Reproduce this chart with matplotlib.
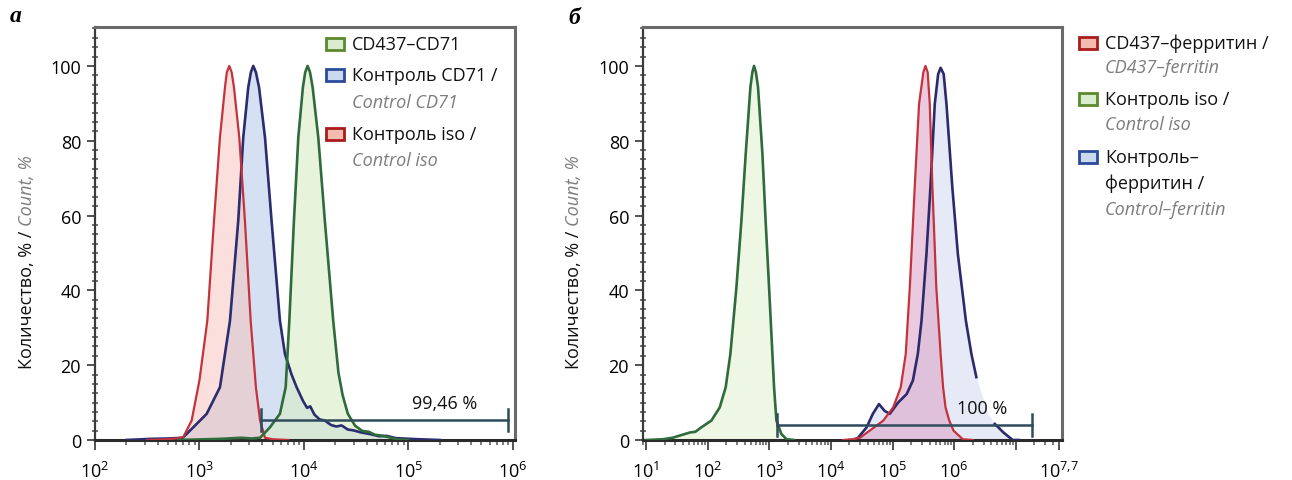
import numpy as np
import matplotlib
matplotlib.use('Agg')
import matplotlib.pyplot as plt
from matplotlib.patches import Rectangle
from matplotlib.ticker import FixedLocator, MultipleLocator, NullFormatter

plt.rcParams['font.family'] = ['Open Sans', 'DejaVu Sans']
plt.rcParams['mathtext.fontset'] = 'custom'
plt.rcParams['mathtext.rm'] = 'Open Sans'
plt.rcParams['mathtext.it'] = 'Open Sans:italic'

# ---- panel а: log10(intensity) / count, %
a_iso_lg = [2.50, 2.70, 2.80, 2.845, 2.925, 3.00, 3.075, 3.139, 3.196, 3.244, 3.262, 3.285, 3.308,
            3.33, 3.381, 3.435, 3.49, 3.54, 3.58, 3.627, 3.70, 3.85]
a_iso_cnt = [0, 0.2, 0.5, 0.8, 5.2, 16, 31.9, 58.6, 80.9, 94.3, 98.3, 100, 98.3,
             94.3, 80.9, 58.6, 31.9, 14.1, 5.2, 0.6, 0.2, 0]

a_ctrl_lg = [2.30, 2.53, 2.70, 2.84, 2.941, 3.069, 3.196, 3.292, 3.371, 3.419, 3.467, 3.492, 3.515,
             3.54, 3.57, 3.627, 3.69, 3.77, 3.818, 3.88, 3.93, 3.99, 4.03, 4.06, 4.10, 4.15, 4.20,
             4.26, 4.31, 4.36, 4.42, 4.47, 4.55, 4.63, 4.72, 4.79, 4.88, 4.95, 5.10, 5.30]
a_ctrl_cnt = [0, 0.3, 0.4, 0.6, 3.4, 7, 14.1, 31.9, 58.6, 80.9, 94.3, 98.3, 100,
              98.3, 94.3, 80.9, 58.6, 31.9, 23, 17.6, 14.1, 10.5, 8.6, 9.0, 6.8, 5.5, 5.2,
              4.0, 3.6, 3.9, 2.8, 2.6, 2.0, 1.6, 1.0, 1.1, 0.5, 0.4, 0.2, 0]

a_cd_lg = [2.80, 3.20, 3.40, 3.50, 3.58, 3.675, 3.77, 3.825, 3.86, 3.904, 3.946, 3.99, 4.012, 4.035,
           4.058, 4.083, 4.137, 4.20, 4.28, 4.33, 4.37, 4.42, 4.49, 4.56, 4.62, 4.68, 4.76, 4.89, 5.0]
a_cd_cnt = [0, 0.3, 0.6, 0.4, 0.6, 3.4, 7, 14.1, 31.9, 58.6, 80.9, 94.3, 98.3, 100,
            98.3, 94.3, 80.9, 58.6, 31.9, 18, 12, 7, 3.8, 2.4, 2.2, 1.4, 1.1, 0.2, 0]

gate_a = (3.59, 5.95, 5.35)   # log10 start, log10 end, level
gate_a_label = '99,46 %'

# ---- panel б
b_iso_lg = [1.0, 1.27, 1.43, 1.71, 1.80, 1.898, 2.06, 2.195, 2.292, 2.368, 2.466, 2.547, 2.617,
            2.693, 2.725, 2.752, 2.782, 2.817, 2.888, 2.94, 2.996, 3.05, 3.077, 3.115, 3.196, 3.28, 3.4]
b_iso_cnt = [0, 0.2, 0.6, 2.0, 2.2, 3.4, 5.2, 8.7, 14.1, 23, 40.8, 58.6, 76.5,
             94.3, 98.3, 100, 98.3, 94.3, 76.5, 58.6, 40.8, 23, 14.1, 5.2, 1.6, 0.2, 0]

b_cd_lg = [4.2, 4.36, 4.47, 4.63, 4.85, 5.01, 5.133, 5.214, 5.28, 5.36, 5.43, 5.50, 5.534, 5.57,
           5.604, 5.647, 5.71, 5.78, 5.82, 5.86, 5.92, 5.99, 6.14, 6.3]
b_cd_cnt = [0, 0.2, 0.6, 2.5, 5.2, 8.7, 14.1, 23, 40.8, 67.6, 89.8, 98.3, 100, 98.3,
            89.8, 67.6, 40.8, 23, 14.1, 8.7, 5.2, 2.5, 0.2, 0]

b_ctrl_lg = [4.30, 4.36, 4.44, 4.58, 4.68, 4.78, 4.87, 4.955, 5.09, 5.23, 5.33, 5.41, 5.47, 5.55,
             5.615, 5.685, 5.74, 5.78, 5.83, 5.875, 5.97, 6.06, 6.19, 6.28, 6.36, 6.45, 6.55, 6.66,
             6.80, 6.95, 7.05]
b_ctrl_cnt = [0, 0, 0.6, 3.4, 7.0, 9.6, 7.8, 7.0, 10.0, 12.3, 15.9, 23, 31.9, 49.7,
              67.6, 89.8, 97.8, 99.5, 97.8, 89.8, 67.6, 49.7, 31.9, 23, 16.8, 12, 7, 4.3,
              2.0, 0, 0]
b_ctrl_gap = (6.37, 6.62)   # outline missing here in the original

gate_b = (3.12, 7.26, 4.0)
gate_b_label = '100 %'

# legend: boxes (y, edge, face) and text lines (text, y, italic-english?)
legend_a_boxes = [(45, '#5b8a2c', '#d9ecd0'), (76, '#2b4a9a', '#c9d9ee'), (135, '#a81c1c', '#f4bcb0')]
legend_a_lines = [('CD437–CD71', 45, False), ('Контроль CD71 /', 76, False), ('Control CD71', 103, True),
                  ('Контроль iso /', 135, False), ('Control iso', 161, True)]
legend_b_boxes = [(44, '#a81c1c', '#f4bcb0'), (100, '#5b8a2c', '#d9ecd0'), (158, '#2b4a9a', '#c9d9ee')]
legend_b_lines = [('CD437–ферритин /', 44, False), ('CD437–ferritin', 68, True),
                  ('Контроль iso /', 100, False), ('Control iso', 125, True),
                  ('Контроль–', 158, False), ('ферритин /', 184, False), ('Control–ferritin', 210, True)]

W, H = 1292, 481
FS = 13
fig = plt.figure(figsize=(W / 100, H / 100), dpi=100)


def px(x, y):
    return x / W, 1 - y / H


def hist(ax, lg, cnt, line, fill, alpha, lw=1.9, gap=None):
    x = 10 ** np.array(lg)
    y = np.array(cnt, dtype=float)
    ax.fill_between(x, y, color=fill, alpha=alpha, lw=0, zorder=1)
    if gap is not None:
        lgs = np.array(lg)
        y = np.where((lgs > gap[0]) & (lgs < gap[1]), np.nan, y)
    ax.plot(x, y, color=line, lw=lw, zorder=3, solid_joinstyle='round')


def style_axes(ax, lo, hi):
    ax.set_xscale('log')
    ax.set_xlim(10 ** lo, 10 ** hi)
    ax.set_ylim(0, 110.4)
    ax.yaxis.set_major_locator(FixedLocator([0, 20, 40, 60, 80, 100]))
    ax.yaxis.set_minor_locator(MultipleLocator(2.5))
    ax.tick_params(axis='y', which='major', length=6, width=1.3, labelsize=FS, pad=4, color='#444')
    ax.tick_params(axis='y', which='minor', length=4, width=1.3, color='#666', direction='inout')
    ax.tick_params(axis='x', which='major', length=7, width=1.3, labelsize=FS, pad=8, color='#444')
    ax.tick_params(axis='x', which='minor', length=3.5, width=1.2, color='#666')
    for s in ('top', 'right'):
        ax.spines[s].set_color('#6a6a6a')
        ax.spines[s].set_linewidth(2.2)
    ax.spines['left'].set_color('#3a3a3a')
    ax.spines['left'].set_linewidth(1.6)
    ax.spines['bottom'].set_color('#2a2a2a')
    ax.spines['bottom'].set_linewidth(2.2)


def gate(ax, g, label, lx):
    x0, x1, yv = 10 ** g[0], 10 ** g[1], g[2]
    c = '#2f4b5c'
    ax.plot([x0, x1], [yv, yv], color=c, lw=1.8, zorder=4)
    ax.plot([x0, x0], [yv - 3, yv + 3], color=c, lw=1.8, zorder=4)
    ax.plot([x1, x1], [yv - 3, yv + 3], color=c, lw=1.8, zorder=4)
    ax.text(10 ** lx, yv + 2.2, label, ha='center', va='bottom', fontsize=FS, color='#111', zorder=5)


def legend(boxes, lines, x):
    for yy, ec, fc in boxes:
        sx, sy = px(x, yy + 6)
        fig.patches.append(Rectangle((sx, sy), 18 / W, 12 / H, transform=fig.transFigure,
                                     facecolor=fc, edgecolor=ec, lw=2))
    for txt, yy, en in lines:
        tx, ty = px(x + 26, yy)
        if en:
            fig.text(tx, ty, txt, fontsize=FS, va='center', ha='left', color='#7d7d7d', style='italic')
        else:
            fig.text(tx, ty, txt, fontsize=FS, va='center', ha='left', color='#111')


def ylabel(x, ybottom):
    tx, ty = px(x, ybottom)
    t1 = fig.text(tx, ty, 'Количество, % /', rotation=90, ha='center', va='bottom',
                  fontsize=FS, color='#111')
    fig.canvas.draw()
    bb = t1.get_window_extent()
    fig.text(tx, (bb.y1 + 5) / H, 'Count, %', rotation=90, ha='center', va='bottom',
             fontsize=FS, color='#7d7d7d', style='italic')


# ---- panel а
ax1 = fig.add_axes([95 / W, 40 / H, 420 / W, 413 / H])
hist(ax1, a_ctrl_lg, a_ctrl_cnt, '#2a2d6e', '#b9cceb', 0.6)
hist(ax1, a_iso_lg, a_iso_cnt, '#c4323c', '#f6c1bb', 0.5, lw=1.6)
hist(ax1, a_cd_lg, a_cd_cnt, '#2f6b3b', '#d9ecc6', 0.6)
style_axes(ax1, 2.0, 6.02)
ax1.xaxis.set_major_locator(FixedLocator([1e2, 1e3, 1e4, 1e5, 1e6]))
ax1.set_xticklabels([r'$10^{2}$', r'$10^{3}$', r'$10^{4}$', r'$10^{5}$', r'$10^{6}$'])
ax1.xaxis.set_minor_locator(FixedLocator([m * 10 ** d for d in range(2, 6) for m in range(2, 10)]))
ax1.xaxis.set_minor_formatter(NullFormatter())
gate(ax1, gate_a, gate_a_label, 5.35)

# ---- panel б
lo_b, hi_b = 0.95, 7.75
ax2 = fig.add_axes([643 / W, 40 / H, 419 / W, 413 / H])
hist(ax2, b_iso_lg, b_iso_cnt, '#2f6b3b', '#e4f0d2', 0.6)
hist(ax2, b_ctrl_lg, b_ctrl_cnt, '#2c2a6a', '#d6dcf0', 0.6, gap=b_ctrl_gap)
hist(ax2, b_cd_lg, b_cd_cnt, '#c4323c', '#dca0c8', 0.55, lw=1.6)
style_axes(ax2, lo_b, hi_b)
ax2.xaxis.set_major_locator(FixedLocator([1e1, 1e2, 1e3, 1e4, 1e5, 1e6, 1e7, 10 ** 7.7]))
ax2.set_xticklabels([r'$10^{1}$', r'$10^{2}$', r'$10^{3}$', r'$10^{4}$', r'$10^{5}$', r'$10^{6}$', '',
                     r'$10^{7{,}7}$'])
ax2.xaxis.set_minor_locator(FixedLocator([m * 10 ** d for d in range(0, 8) for m in range(2, 10)
                                          if 10 ** lo_b < m * 10 ** d < 10 ** hi_b]))
ax2.xaxis.set_minor_formatter(NullFormatter())
gate(ax2, gate_b, gate_b_label, 6.45)

# legends
legend(legend_a_boxes, legend_a_lines, 326)
legend(legend_b_boxes, legend_b_lines, 1079)

# panel letters
fig.text(*px(16, 17), 'а', fontsize=17, fontweight='bold', style='italic',
         family='Liberation Serif', ha='center', va='center')
fig.text(*px(574, 18), 'б', fontsize=17, fontweight='bold', style='italic',
         family='Liberation Serif', ha='center', va='center')

ylabel(27, 369)
ylabel(574, 369)

fig.savefig('out.png', dpi=100)
